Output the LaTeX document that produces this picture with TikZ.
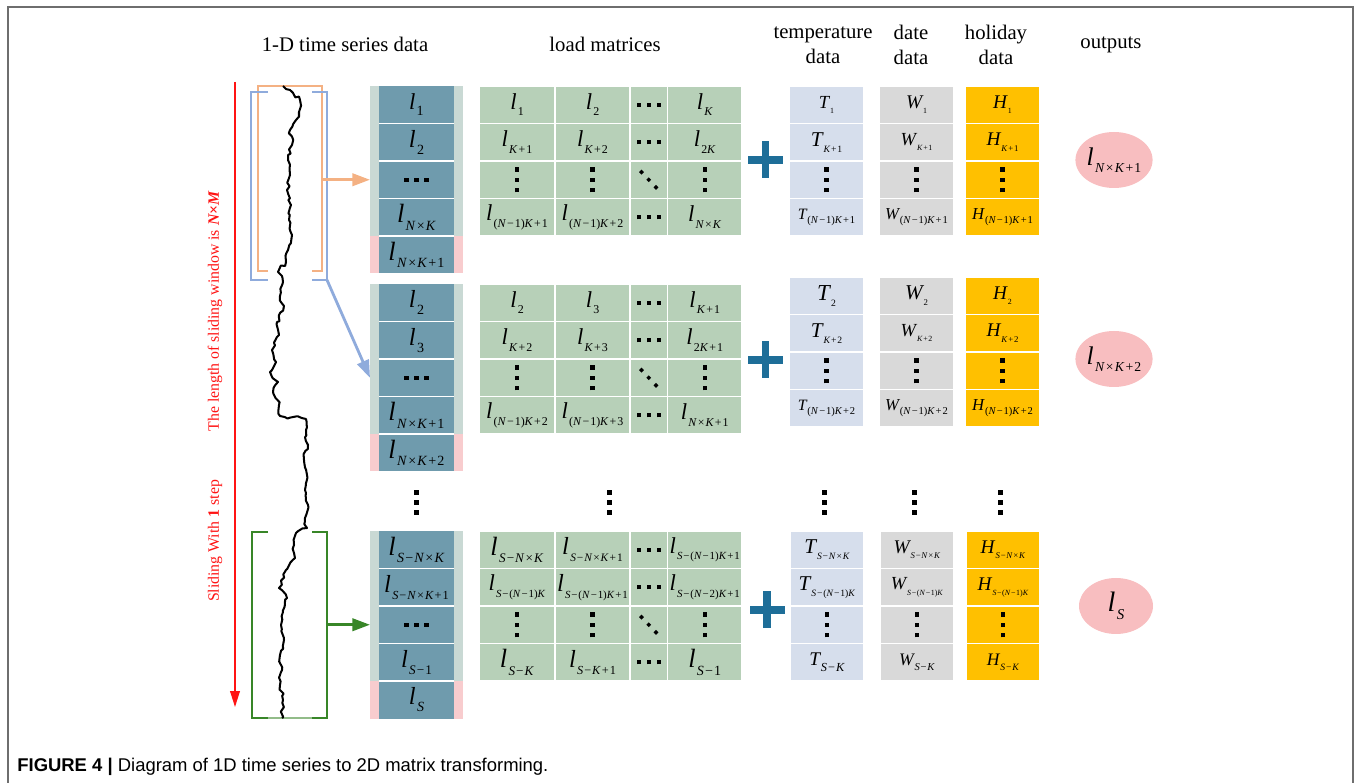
\documentclass[tikz,border=0pt]{standalone}
\usepackage{fontspec}
\usepackage{graphicx}
\setmainfont{Liberation Serif}
\newfontfamily\capfont{Liberation Sans}
\usetikzlibrary{arrows.meta,decorations.pathmorphing,shapes.geometric}

\definecolor{colTeal}{RGB}{111,155,173}
\definecolor{colSage}{RGB}{201,217,212}
\definecolor{colPinkS}{RGB}{248,204,206}
\definecolor{colGreen}{RGB}{183,208,184}
\definecolor{colTemp}{RGB}{214,222,236}
\definecolor{colDate}{RGB}{217,217,217}
\definecolor{colHol}{RGB}{255,192,0}
\definecolor{colOut}{RGB}{248,190,192}
\definecolor{colPlus}{RGB}{30,110,152}
\definecolor{colOra}{RGB}{244,177,131}
\definecolor{colBlu}{RGB}{143,171,220}
\definecolor{colGrn}{RGB}{56,134,40}
\definecolor{colRed}{RGB}{255,20,20}
\definecolor{colFrame}{RGB}{110,110,110}

\newcommand\vsym[4]{{\fontsize{#1}{#1}\selectfont\itshape #3\kern0.05em\raisebox{-0.28em}{\upshape\fontsize{#2}{#2}\selectfont #4}}}
\newcommand\iN{\textit{N}}
\newcommand\iK{\textit{K}}
\newcommand\iS{\textit{S}}
\newcommand\opx{\kern0.08em×\kern0.08em}
\newcommand\opp{\kern0.08em+\kern0.08em}
\newcommand\opm{\kern0.08em−\kern0.08em}
\newcommand\NK{\iN\opx\iK}
\newcommand\sqd{\rule{2.5pt}{2.5pt}}
\newcommand\hdts{\sqd\kern3.2pt\sqd\kern3.2pt\sqd}
\newcommand\vdts{\vbox{\offinterlineskip\hbox{\sqd}\vskip3.4pt\hbox{\sqd}\vskip3.4pt\hbox{\sqd}}}
\newcommand\dia{\rotatebox{45}{\rule{2pt}{2pt}}}
\newcommand\ddts{\raisebox{4.3pt}{\dia}\kern1.3pt\dia\kern1.3pt\raisebox{-4.3pt}{\dia}}
\newcommand\ml[1]{\vsym{13pt}{6.8pt}{l}{#1}}

% sequence column: name, ytop, five texts
\newcommand\seqcol[7]{%
 \node[stripbox] (#1) at (416.5,#2+93.75) {};
 \node[pinkbox] (#1p) at (416.5,#2+168.75) {};
 \node[tealc] (#1a) at (416.5,#2+18.75) {#3};
 \node[tealc] (#1b) at (416.5,#2+56.25) {#4};
 \node[tealc] (#1c) at (416.5,#2+93.75) {#5};
 \node[tealc] (#1d) at (416.5,#2+131.25) {#6};
 \node[tealc] (#1e) at (416.5,#2+168.75) {#7};
 \foreach \q in {b,c,d,e} \draw[sepline] (#1\q.north west) -- (#1\q.north east);
}
% matrix row: name, ycenter, four texts
\newcommand\mrow[6]{%
 \node[gcell, minimum width=76*0.02cm] (#1a) at (517,#2) {#3};
 \node[gcell, minimum width=75*0.02cm] (#1b) at (592.5,#2) {#4};
 \node[gcell, minimum width=37.5*0.02cm] (#1c) at (648.75,#2) {#5};
 \node[gcell, minimum width=74.5*0.02cm] (#1d) at (704.75,#2) {#6};
}
% data column: name, style, xcenter, ytop, four texts
\newcommand\vcol[8]{%
 \node[#2] (#1a) at (#3,#4+18.75) {#5};
 \node[#2] (#1b) at (#3,#4+56.25) {#6};
 \node[#2] (#1c) at (#3,#4+93.75) {#7};
 \node[#2] (#1d) at (#3,#4+131.25) {#8};
}

\begin{document}
\begin{tikzpicture}[x=0.02cm,y=-0.02cm,
 stripbox/.style={rectangle, inner sep=0pt, outer sep=0pt, fill=colSage, minimum width=93*0.02cm, minimum height=187.5*0.02cm},
 pinkbox/.style={rectangle, inner sep=0pt, outer sep=0pt, fill=colPinkS, minimum width=93*0.02cm, minimum height=37.5*0.02cm},
 tealc/.style={rectangle, inner sep=0pt, outer sep=0pt, fill=colTeal, minimum width=75*0.02cm, minimum height=37.5*0.02cm},
 sepline/.style={white, line width=0.85pt},
 gcell/.style={rectangle, inner sep=0pt, outer sep=0pt, fill=colGreen, draw=white, line width=0.8pt, minimum height=37.5*0.02cm},
 dcell/.style={rectangle, inner sep=0pt, outer sep=0pt, draw=white, line width=0.8pt, minimum width=74*0.02cm, minimum height=37.5*0.02cm},
 tcell/.style={dcell, fill=colTemp},
 wcell/.style={dcell, fill=colDate},
 hcell/.style={dcell, fill=colHol},
 outell/.style={ellipse, fill=colOut, inner sep=0pt, minimum width=74*0.02cm, minimum height=56*0.02cm},
 header/.style={font=\fontsize{11.8}{14.2}\selectfont, align=center, inner sep=0pt},
 redtext/.style={text=colRed, font=\fontsize{9}{11}\selectfont, rotate=90, inner sep=0pt},
 plussign/.pic={\fill[colPlus] (-17.5,-3.6) rectangle (17.5,3.6); \fill[colPlus] (-3.6,-18.5) rectangle (3.6,18.5);},
 vgap/.pic={\foreach \i in {-1,0,1} \fill (-2.3,\i*10-2.3) rectangle ++(4.6,4.6);},
 bracketline/.style={line width=1.4pt},
 connector/.style={line width=1.6pt, -{Triangle[length=10pt,width=7pt]}},
 curve/.style={black, line width=1.15pt, line join=round, decorate, decoration={random steps, segment length=2.2pt, amplitude=1.1pt}}
]
\useasboundingbox (0,0) rectangle (1356,783);

% frame
\draw[colFrame, line width=1.1pt] (8,783) -- (8,7) -- (1353,7) -- (1353,783);

% headers
\node[header] (h1) at (345,44) {1-D time series data};
\node[header] (h2) at (605,44) {load matrices};
\node[header] (h3) at (823,45) {temperature\\data};
\node[header] (h4) at (911,45) {date\\data};
\node[header] (h5) at (996,45) {holiday\\data};
\node[header] (h6) at (1111,45) {outputs};

% red sliding arrow and labels
\coordinate (rtop) at (235,82);
\coordinate (rbot) at (235,707);
\draw[colRed, line width=0.8pt, -{Triangle[length=9pt,width=5.5pt]}] (rtop) -- (rbot);
\node[redtext] (rt1) at (215,311) {The length of sliding window is \textbf{\textit{N}×\textit{M}}};
\node[redtext] (rt2) at (215,541) {Sliding With \textbf{1} step};

% brackets
\draw[bracketline, colOra] (268,271) -- (258,271) -- (258,86) -- (322,86) -- (322,271) -- (312,271);
\draw[bracketline, colBlu] (268,92) -- (251,92) -- (251,280) -- (268,280);
\draw[bracketline, colBlu] (312,92) -- (327,92) -- (327,280) -- (312,280);
\draw[bracketline, colGrn] (268,532) -- (252,532) -- (252,718) -- (327,718) -- (327,532) -- (312,532);
\draw[line width=1.4pt, colGrn!55] (268,718) -- (312,718);

% time series curve
\pgfmathsetseed{42}
\draw[curve] plot coordinates {(283,86) (290,90) (300,100) (299,112) (296,120) (290,130) (292,145) (288,160) (290,175) (287,190) (291,205) (289,220) (292,235) (288,250) (286,262) (278,272) (283,282) (280,296) (284,306) (277,322) (279,335) (272,350) (276,362) (270,372) (278,382) (273,392) (279,405) (280,416) (306,419) (306,430) (308,445) (304,460) (307,475) (305,490) (308,505) (305,518) (307,528) (296,533) (294,545) (295,558) (286,570) (279,588) (287,598) (283,612) (281,625) (284,640) (280,655) (282,670) (280,685) (283,700) (282,718)};

% ===== block 1 =====
\seqcol{col1}{86}{\vsym{13pt}{8pt}{l}{1}}{\vsym{14pt}{8pt}{l}{2}}{\hdts}{\vsym{15pt}{8pt}{l}{\NK}}{\vsym{15pt}{8pt}{l}{\NK\opp 1}}
\mrow{ma1}{104.75}{\ml{1}}{\ml{2}}{\hdts}{\ml{\iK}}
\mrow{mb1}{142.25}{\ml{\iK\opp 1}}{\ml{\iK\opp 2}}{\hdts}{\ml{2\iK}}
\mrow{mc1}{179.75}{\vdts}{\vdts}{\ddts}{\vdts}
\mrow{md1}{217.25}{\ml{(\iN\opm 1)\iK\opp 1}}{\ml{(\iN\opm 1)\iK\opp 2}}{\hdts}{\ml{\NK}}
\pic at (765.5,160) {plussign};
\vcol{t1}{tcell}{826.5}{86}{\vsym{10.5pt}{4.5pt}{T}{1}}{\vsym{12pt}{5.5pt}{T}{\iK\opp 1}}{\vdts}{\vsym{9pt}{6pt}{T}{(\iN\opm 1)\iK\opp 1}}
\vcol{w1}{wcell}{916.5}{86}{\vsym{11pt}{4.5pt}{W}{1}}{\vsym{10.5pt}{4.5pt}{W}{\iK\opp 1}}{\vdts}{\vsym{9.5pt}{6pt}{W}{(\iN\opm 1)\iK\opp 1}}
\vcol{hh1}{hcell}{1002.5}{86}{\vsym{11pt}{4.5pt}{H}{1}}{\vsym{11pt}{5pt}{H}{\iK\opp 1}}{\vdts}{\vsym{9.5pt}{6pt}{H}{(\iN\opm 1)\iK\opp 1}}
\node[outell] (o1) at (1114,160) {\vsym{14.5pt}{7.8pt}{l}{\NK\opp 1}};

% ===== block 2 =====
\seqcol{col2}{284}{\vsym{14pt}{8pt}{l}{2}}{\vsym{14pt}{8pt}{l}{3}}{\hdts}{\vsym{15pt}{8pt}{l}{\NK\opp 1}}{\vsym{15pt}{8pt}{l}{\NK\opp 2}}
\mrow{ma2}{302.75}{\ml{2}}{\ml{3}}{\hdts}{\ml{\iK\opp 1}}
\mrow{mb2}{340.25}{\ml{\iK\opp 2}}{\ml{\iK\opp 3}}{\hdts}{\ml{2\iK\opp 1}}
\mrow{mc2}{377.75}{\vdts}{\vdts}{\ddts}{\vdts}
\mrow{md2}{415.25}{\ml{(\iN\opm 1)\iK\opp 2}}{\ml{(\iN\opm 1)\iK\opp 3}}{\hdts}{\ml{\NK\opp 1}}
\pic at (765.5,360) {plussign};
\vcol{t2}{tcell}{826.5}{277}{\vsym{13pt}{5.5pt}{T}{2}}{\vsym{12pt}{5.5pt}{T}{\iK\opp 2}}{\vdts}{\vsym{9pt}{6pt}{T}{(\iN\opm 1)\iK\opp 2}}
\vcol{w2}{wcell}{916.5}{277}{\vsym{12pt}{5pt}{W}{2}}{\vsym{10.5pt}{4.5pt}{W}{\iK\opp 2}}{\vdts}{\vsym{9.5pt}{6pt}{W}{(\iN\opm 1)\iK\opp 2}}
\vcol{hh2}{hcell}{1002.5}{277}{\vsym{11pt}{4.5pt}{H}{2}}{\vsym{11pt}{5pt}{H}{\iK\opp 2}}{\vdts}{\vsym{9.5pt}{6pt}{H}{(\iN\opm 1)\iK\opp 2}}
\node[outell] (o2) at (1114,359) {\vsym{14.5pt}{7.8pt}{l}{\NK\opp 2}};

% gap dots
\pic at (416.5,502.5) {vgap};
\pic at (609.5,502.5) {vgap};
\pic at (824.5,502.5) {vgap};
\pic at (914.5,502.5) {vgap};
\pic at (1000.5,502.5) {vgap};

% ===== block 3 =====
\seqcol{col3}{531}{\vsym{15pt}{8pt}{l}{\iS\opm\NK}}{\vsym{14pt}{7pt}{l}{\iS\opm\NK\opp 1}}{\hdts}{\vsym{14pt}{7.5pt}{l}{\iS\opm 1}}{\vsym{14pt}{8pt}{l}{\iS}}
\mrow{ma3}{549.75}{\vsym{15pt}{7.5pt}{l}{\iS\opm\NK}}{\vsym{14pt}{6.5pt}{l}{\iS\opm\NK\opp 1}}{\hdts}{\vsym{13pt}{6.2pt}{l}{\iS\opm(\iN\opm 1)\iK\opp 1}}
\mrow{mb3}{587.25}{\vsym{13pt}{6.2pt}{l}{\iS\opm(\iN\opm 1)\iK}}{\vsym{14pt}{6.2pt}{l}{\iS\opm(\iN\opm 1)\iK\opp 1}}{\hdts}{\vsym{13pt}{6.2pt}{l}{\iS\opm(\iN\opm 2)\iK\opp 1}}
\mrow{mc3}{624.75}{\vdts}{\vdts}{\ddts}{\vdts}
\mrow{md3}{662.25}{\vsym{15pt}{7.5pt}{l}{\iS\opm\iK}}{\vsym{14pt}{7pt}{l}{\iS\opm\iK\opp 1}}{\hdts}{\vsym{15pt}{8pt}{l}{\iS\opm 1}}
\pic at (767,610) {plussign};
\vcol{t3}{tcell}{827}{531}{\vsym{12pt}{5.5pt}{T}{\iS\opm\NK}}{\vsym{12pt}{5.5pt}{T}{\iS\opm(\iN\opm 1)\iK}}{\vdts}{\vsym{11pt}{7pt}{T}{\iS\opm\iK}}
\vcol{w3}{wcell}{917}{531}{\vsym{11pt}{5pt}{W}{\iS\opm\NK}}{\vsym{10.5pt}{4.5pt}{W}{\iS\opm(\iN\opm 1)\iK}}{\vdts}{\vsym{10pt}{6pt}{W}{\iS\opm\iK}}
\vcol{hh3}{hcell}{1003}{531}{\vsym{11pt}{5pt}{H}{\iS\opm\NK}}{\vsym{11pt}{4.5pt}{H}{\iS\opm(\iN\opm 1)\iK}}{\vdts}{\vsym{10pt}{5.5pt}{H}{\iS\opm\iK}}
\node[outell] (o3) at (1116,606) {\vsym{16pt}{8.5pt}{l}{\iS}};

% connectors from windows to columns
\coordinate (oarr) at (322,179.75);
\coordinate (barr) at (327,280);
\coordinate (garr) at (327,624.75);
\draw[connector, colOra] (oarr) -- (col1.west);
\draw[connector, colBlu] (barr) -- (col2.west);
\draw[connector, colGrn] (garr) -- (col3.west);

% caption
\node[anchor=west, inner sep=0pt, font=\capfont\fontsize{10.5}{12}\selectfont] (cap) at (17,767) {\textbf{FIGURE 4 |} Diagram of 1D time series to 2D matrix transforming.};
\end{tikzpicture}
\end{document}
